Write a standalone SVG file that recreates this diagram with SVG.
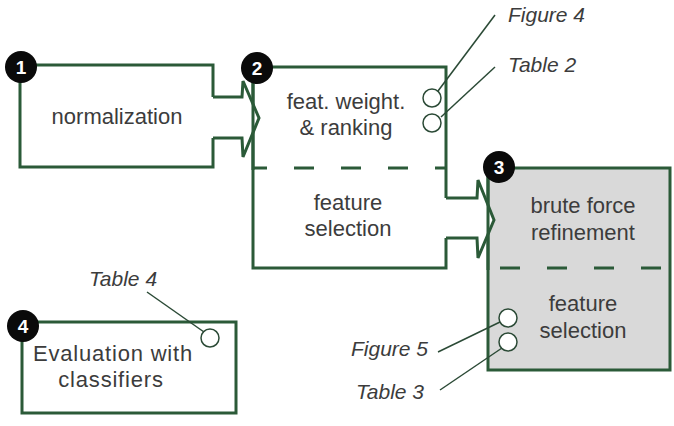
<svg xmlns="http://www.w3.org/2000/svg" width="674" height="426" viewBox="0 0 674 426">
  <defs>
    <style>
      .box { fill: #ffffff; stroke: #2b5a38; stroke-width: 3; }
      .grey { fill: #d9d9d9; }
      .edge { fill: none; stroke: #2b5a38; stroke-width: 3; stroke-linejoin: miter; }
      .dash { fill: none; stroke: #2b5a38; stroke-width: 3; stroke-dasharray: 20 27; }
      .flow { fill: #ffffff; stroke: #2b5a38; stroke-width: 3; stroke-linejoin: miter; }
      .ref { fill: #ffffff; stroke: #2b4a36; stroke-width: 1.5; }
      .lead { fill: none; stroke: #2b4a36; stroke-width: 1.5; }
      .lbl { font-family: "Liberation Sans", Arial, sans-serif; font-size: 22px; fill: #3c3c3c; text-anchor: middle; }
      .cite { font-family: "Liberation Sans", Arial, sans-serif; font-size: 21px; font-style: italic; fill: #3c3c3c; }
      .badge { fill: #0a0a0a; }
      .num { font-family: "Liberation Sans", Arial, sans-serif; font-size: 19px; font-weight: bold; fill: #ffffff; text-anchor: middle; }
    </style>
  </defs>

  <!-- step 1 -->
  <g id="node1">
    <path class="box" d="M213,97 V65 H20 V167 H213 V138"/>
    <text class="lbl" x="117" y="124">normalization</text>
  </g>

  <!-- step 2 -->
  <g id="node2">
    <path class="box" d="M446,198 V67 H253 V268 H446 V238"/>
    <line class="dash" x1="253" y1="168" x2="446" y2="168" stroke-dashoffset="6"/>
    <text class="lbl" x="346" y="109">feat. weight.</text>
    <text class="lbl" x="346" y="135">&amp; ranking</text>
    <text class="lbl" x="348" y="210">feature</text>
    <text class="lbl" x="348" y="236">selection</text>
    <circle class="ref" cx="432" cy="98" r="9"/>
    <circle class="ref" cx="432" cy="123" r="9"/>
  </g>

  <!-- step 3 -->
  <g id="node3">
    <rect class="grey" x="488" y="168" width="182" height="202"/>
    <path class="edge" d="M488,168 H670 V370 H488 Z"/>
    <line class="dash" x1="488" y1="268" x2="674" y2="268" stroke-dashoffset="-12"/>
    <text class="lbl" x="583" y="213">brute force</text>
    <text class="lbl" x="583" y="240">refinement</text>
    <text class="lbl" x="583" y="311">feature</text>
    <text class="lbl" x="583" y="338">selection</text>
    <circle class="ref" cx="508" cy="318" r="9"/>
    <circle class="ref" cx="508" cy="342" r="9"/>
  </g>

  <!-- step 4 -->
  <g id="node4">
    <rect class="box" x="22" y="322" width="214" height="91"/>
    <text class="lbl" x="113" y="361" letter-spacing="0.8">Evaluation with</text>
    <text class="lbl" x="111" y="387" letter-spacing="0.8">classifiers</text>
    <circle class="ref" cx="210" cy="338" r="9"/>
  </g>

  <!-- flow arrows and citation leaders -->
  <g id="connectors">
    <path class="flow" d="M213,97 H242 L243,81 L259,118 L243,157 L242,138 H213"/>
    <path class="flow" d="M446,198 H477 L478,180 L494,220 L478,258 L477,238 H446"/>
    <line class="edge" x1="253" y1="67" x2="253" y2="170"/>
    <line class="edge" x1="488" y1="168" x2="488" y2="270"/>
    <line class="lead" x1="438" y1="91" x2="495" y2="15"/>
    <line class="lead" x1="441" y1="117" x2="495" y2="67"/>
    <line class="lead" x1="500" y1="322" x2="438" y2="352"/>
    <line class="lead" x1="502" y1="348" x2="440" y2="390"/>
    <line class="lead" x1="204" y1="332" x2="147" y2="292"/>
  </g>

  <!-- citation labels -->
  <g id="citations">
    <text class="cite" x="508" y="22">Figure 4</text>
    <text class="cite" x="508" y="72">Table 2</text>
    <text class="cite" x="428" y="356" text-anchor="end">Figure 5</text>
    <text class="cite" x="424" y="399" text-anchor="end">Table 3</text>
    <text class="cite" x="123" y="286" text-anchor="middle">Table 4</text>
  </g>

  <!-- step badges -->
  <g id="badge1"><circle class="badge" cx="21" cy="67" r="16"/><text class="num" x="21" y="74">1</text></g>
  <g id="badge2"><circle class="badge" cx="257" cy="68" r="16"/><text class="num" x="257" y="75">2</text></g>
  <g id="badge3"><circle class="badge" cx="499" cy="167" r="16"/><text class="num" x="499" y="174">3</text></g>
  <g id="badge4"><circle class="badge" cx="23" cy="326" r="16"/><text class="num" x="23" y="333">4</text></g>
</svg>
